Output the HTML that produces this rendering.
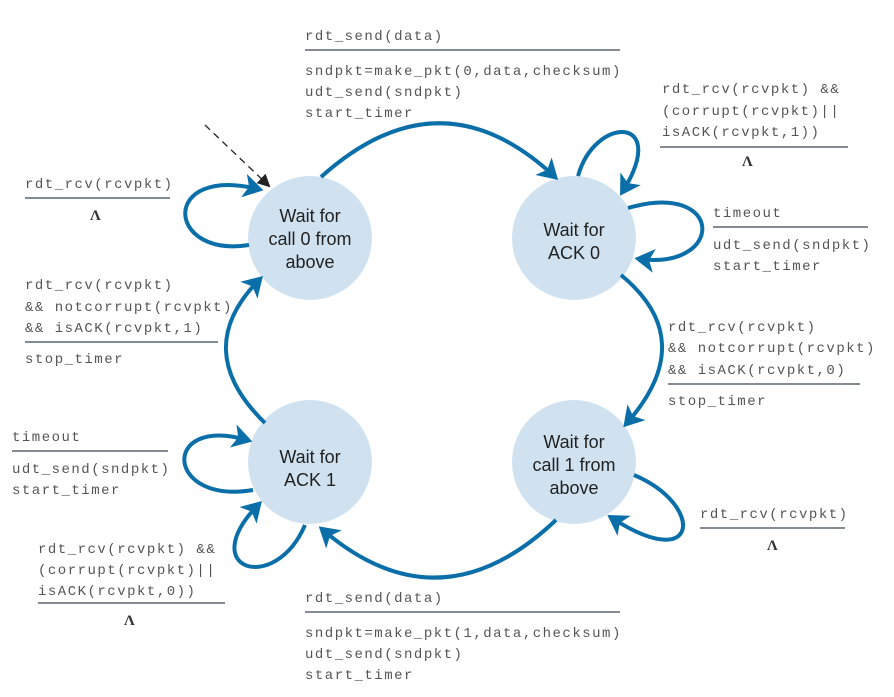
<!DOCTYPE html>
<html><head><meta charset="utf-8"><style>
html,body{margin:0;padding:0;background:#fff;}
svg{display:block;}
.m{font-family:"Liberation Mono",monospace;font-size:14px;letter-spacing:1.5px;fill:#555;}
.s{font-family:"Liberation Sans",sans-serif;font-size:18px;fill:#222;text-anchor:middle;}
.l{font-family:"Liberation Serif",serif;font-size:15px;fill:#333;font-weight:bold;}
.a{fill:none;stroke:#0a6fa8;stroke-width:4;marker-end:url(#ah);}
.r{stroke:#3a4656;stroke-width:1.3;}
</style></head><body>
<svg width="894" height="697" viewBox="0 0 894 697" xmlns="http://www.w3.org/2000/svg">
<defs>
<marker id="ah" markerWidth="6" markerHeight="6" refX="3.6" refY="3" orient="auto" markerUnits="strokeWidth">
<path d="M0,0 L5,3 L0,6 L1.3,3 Z" fill="#0a6fa8"/></marker>
<marker id="bh" markerWidth="13" markerHeight="13" refX="11" refY="6.5" orient="auto" markerUnits="userSpaceOnUse">
<path d="M0,0 L13,6.5 L0,13 Z" fill="#222"/></marker>
</defs>
<circle cx="310" cy="238" r="62" fill="#d0e2f0"/>
<circle cx="574" cy="238" r="62" fill="#d0e2f0"/>
<circle cx="310" cy="462" r="62" fill="#d0e2f0"/>
<circle cx="574" cy="462" r="62" fill="#d0e2f0"/>
<text class="s" x="310" y="222">Wait for</text>
<text class="s" x="310" y="245">call 0 from</text>
<text class="s" x="310" y="268">above</text>
<text class="s" x="574" y="236">Wait for</text>
<text class="s" x="574" y="259">ACK 0</text>
<text class="s" x="310" y="463">Wait for</text>
<text class="s" x="310" y="486">ACK 1</text>
<text class="s" x="574" y="448">Wait for</text>
<text class="s" x="574" y="471">call 1 from</text>
<text class="s" x="574" y="494">above</text>

<path class="a" d="M321,177 Q440,70 554,176"/>
<path class="a" d="M621,275 Q700,340 627,423"/>
<path class="a" d="M556,520 Q440,630 323,530"/>
<path class="a" d="M265,423 Q190,350 259,280"/>
<path class="a" d="M249,245 C165,258 160,165 258,189"/>
<path class="a" d="M578,176 C595,115 670,115 623,191"/>
<path class="a" d="M628,208 C725,180 725,270 640,259"/>
<path class="a" d="M253,490 C165,505 160,415 247,440"/>
<path class="a" d="M305,525 C275,595 195,570 258,505"/>
<path class="a" d="M634,475 C705,505 700,575 612,518"/>
<path d="M205,125 L269,186" stroke="#222" stroke-width="1.3" stroke-dasharray="7,5" fill="none" marker-end="url(#bh)"/>

<text class="m" x="305" y="40">rdt_send(data)</text>
<line class="r" x1="305" y1="50" x2="620" y2="50"/>
<text class="m" x="305" y="75">sndpkt=make_pkt(0,data,checksum)</text>
<text class="m" x="305" y="96">udt_send(sndpkt)</text>
<text class="m" x="305" y="117">start_timer</text>

<text class="m" x="662" y="93">rdt_rcv(rcvpkt) &amp;&amp;</text>
<text class="m" x="662" y="115">(corrupt(rcvpkt)||</text>
<text class="m" x="662" y="136">isACK(rcvpkt,1))</text>
<line class="r" x1="660" y1="147" x2="848" y2="147"/>
<text class="l" x="742" y="166">Λ</text>

<text class="m" x="25" y="188">rdt_rcv(rcvpkt)</text>
<line class="r" x1="25" y1="198" x2="170" y2="198"/>
<text class="l" x="90" y="220">Λ</text>

<text class="m" x="713" y="217">timeout</text>
<line class="r" x1="713" y1="227" x2="868" y2="227"/>
<text class="m" x="713" y="249">udt_send(sndpkt)</text>
<text class="m" x="713" y="270">start_timer</text>

<text class="m" x="25" y="289">rdt_rcv(rcvpkt)</text>
<text class="m" x="25" y="311">&amp;&amp; notcorrupt(rcvpkt)</text>
<text class="m" x="25" y="332">&amp;&amp; isACK(rcvpkt,1)</text>
<line class="r" x1="25" y1="342" x2="218" y2="342"/>
<text class="m" x="25" y="363">stop_timer</text>

<text class="m" x="668" y="331">rdt_rcv(rcvpkt)</text>
<text class="m" x="668" y="352">&amp;&amp; notcorrupt(rcvpkt)</text>
<text class="m" x="668" y="374">&amp;&amp; isACK(rcvpkt,0)</text>
<line class="r" x1="668" y1="384" x2="860" y2="384"/>
<text class="m" x="668" y="405">stop_timer</text>

<text class="m" x="12" y="441">timeout</text>
<line class="r" x1="12" y1="451" x2="168" y2="451"/>
<text class="m" x="12" y="473">udt_send(sndpkt)</text>
<text class="m" x="12" y="494">start_timer</text>

<text class="m" x="700" y="518">rdt_rcv(rcvpkt)</text>
<line class="r" x1="700" y1="528" x2="845" y2="528"/>
<text class="l" x="767" y="550">Λ</text>

<text class="m" x="38" y="553">rdt_rcv(rcvpkt) &amp;&amp;</text>
<text class="m" x="38" y="574">(corrupt(rcvpkt)||</text>
<text class="m" x="38" y="595">isACK(rcvpkt,0))</text>
<line class="r" x1="38" y1="603" x2="225" y2="603"/>
<text class="l" x="124" y="625">Λ</text>

<text class="m" x="305" y="602">rdt_send(data)</text>
<line class="r" x1="305" y1="612" x2="620" y2="612"/>
<text class="m" x="305" y="637">sndpkt=make_pkt(1,data,checksum)</text>
<text class="m" x="305" y="658">udt_send(sndpkt)</text>
<text class="m" x="305" y="679">start_timer</text>
</svg>
</body></html>
